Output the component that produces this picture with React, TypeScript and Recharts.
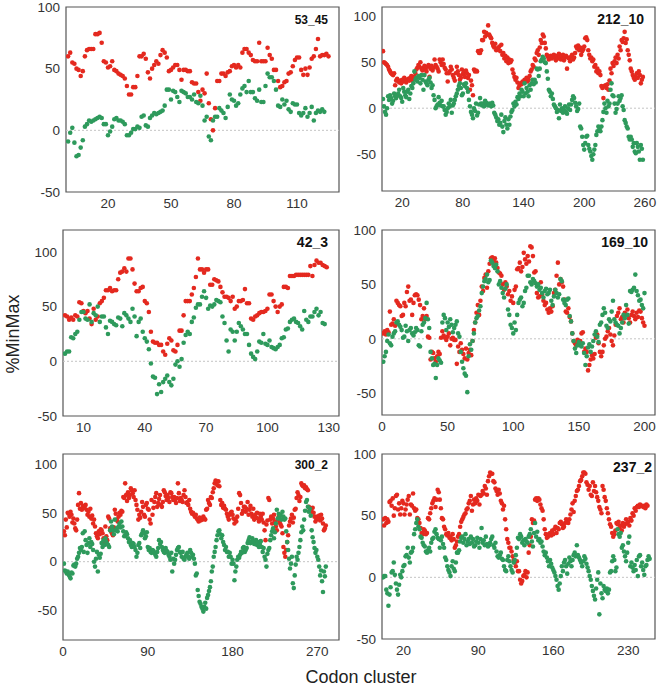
import React from "react";
import {
  ScatterChart,
  Scatter,
  XAxis,
  YAxis,
  ReferenceLine,
  ReferenceArea
} from "recharts";

const RED = "#e4291f";
const GREEN = "#2e9a5c";
const FONT = '"Liberation Sans", Arial, sans-serif';

const yTicks = [-50, 0, 50, 100];

// panel 53_45
const p1Ticks = [20, 50, 80, 110];
const p1Red = [
  60, 63, 55, 54, 50, 49, 44, 48, 60, 65, 66, 66, 66, 78, 78, 79, 71, 56, 55, 51,
  52, 56, 49, 48, 46, 45, 44, 42, 36, 29, 29, 35, 35, 44, 60, 60, 62, 58, 47, 42,
  50, 53, 56, 54, 61, 65, 63, 59, 48, 49, 51, 53, 53, 49, 41, 49, 49, 48, 48, 39,
  38, 38, 31, 24, 33, 30, 46, 22, 9, 0, 18, 40, 40, 46, 46, 44, 47, 48,
  52, 53, 51, 53, 51, 63, 66, 66, 63, 61, 57, 56, 56, 71, 56, 56, 56, 67, 61, 58,
  49, 49, 40, 35, 36, 39, 40, 46, 47, 52, 57, 59, 59, 49, 45, 50, 45, 51, 58, 60,
  66, 74, 60, 61, 61, 62, 60
];
const p1Green = [
  -9, -2, 2, -10, -21, -20, -14, -8, 3, 5, 8, 7, 8, 9, 10, 11, 10, 5, 5, -4,
  -1, 3, 9, 10, 8, 8, 7, 5, -4, -4, -2, 1, 1, 3, 2, 11, 12, 4, 3, 10,
  12, 14, 13, 14, 15, 16, 20, 33, 33, 25, 32, 31, 27, 23, 32, 31, 30, 27, 27, 25,
  29, 23, 22, 28, 20, 8, 11, -5, -8, 8, 11, 11, 18, 16, 14, 10, 19, 29, 25, 24,
  20, 22, 29, 34, 36, 31, 40, 31, 31, 26, 24, 33, 23, 23, 36, 46, 43, 43, 40, 33,
  20, 19, 25, 21, 24, 17, 15, 22, 21, 21, 14, 12, 14, 18, 11, 14, 19, 8, 14, 16,
  15, 17, 15
];

// panel 212_10
const p2Ticks = [20, 80, 140, 200, 260];
const p2Red = [
  62, 50, 49, 48, 47, 45, 42, 40, 38, 37, 36, 38,
  25, 30, 32, 14, 28, 30, 27, 31, 29, 33, 30, 28, 31, 32, 30, 33, 35, 30, 33, 34,
  38, 42, 44, 47, 45, 50, 43, 41,
  44, 46, 42, 40, 45, 47, 34, 43, 46, 41, 44, 53, 47, 45, 43,
  40, 53, 50, 47, 53, 48, 44, 42, 38, 29,
  38, 40, 45, 42, 36, 33, 30, 38, 45, 40, 36, 31, 33, 42, 37,
  39, 34, 41, 38, 33, 36, 20, 30, 25, 14, 42, 40,
  41, 40, 62, 60,
  60, 63, 74, 74, 83, 78, 82, 80, 90, 80, 78, 76,
  71, 68, 66, 70, 63, 65, 64, 67, 62, 69,
  58, 60, 54, 57, 51, 55, 49, 53, 50, 52,
  42, 38, 34, 31, 33, 28, 22, 25,
  27, 26, 29, 28, 31, 30, 33, 29, 31, 35,
  40, 42, 47, 45, 54, 52, 60, 63, 58,
  66, 74, 71, 80, 78, 71, 65,
  58, 56, 53, 55, 57, 54, 56, 58,
  55, 52, 57, 54, 59, 55, 53, 56, 58, 52, 55, 57, 43, 55, 54, 51, 56, 58, 53, 55,
  60, 67, 65, 68, 63, 66, 58, 62, 64, 67,
  76, 77, 74, 63, 58,
  54, 55, 51, 53, 45, 47, 40, 43, 38, 40,
  36, 24, 22, 11, 24, 25, 22, 26, 20,
  30, 43, 38, 49, 46, 51, 55, 49,
  58, 54, 67, 63, 74, 72, 76, 83,
  71, 75, 63, 58, 52,
  43, 40, 36, 33, 31, 34, 38, 33, 40, 36, 27, 31, 34
];
const p2Green = [
  10, 2, -4, -7, 0,
  13, 9, 14, 11, 5, 8, 16, 13, 11, 14,
  16, 20, 13, 11, 7, 22, 18, 14, 12, 18, 20, 10, 16, 24, 22,
  27, 40, 31, 33, 29, 35, 33, 27, 36, 31,
  20, 36, 29, 27, 25, 31, 33, 28, 22, 25,
  14, 9, 0, 2, 4, 12, 6, 3, 8, 2,
  2, -2, -7, -4, 0, 5, 2, 9, -5, 3, 5, 9,
  13, 16, 20, 24, 27, 22, 14, 16, 26, 24, 27, 22, 18,
  9, 2, -4, -7, -11, 0, -3, 5, -8, -5,
  4, 11, 5, 3, 5, 2, 8, 6, 4, 3, 5, 4, 2, 6, 3,
  -5, -7, -10, -14, -12, -18, -16, -7, -20, -26, -14, -10, -18, -22, -12,
  -18, -9, -4, -2, 5, 2, 7, 4, 12, 10,
  16, 13, 20, 18, 13, 27, 16, 22, 18, 13, 25, 20, 27, 31, 26,
  31, 28, 43, 42, 35, 43, 51, 53, 56, 54, 50, 49,
  40, 32, 20, 18, 13, 16, 10, 4,
  2, 0, -4, -2, -11, 4, -3, 0, -5, -2, 2, -4, -6, 0, 4,
  -2, 4, 9, 13, 11, 6, 2, -3, -1, 5,
  -20, -22, -31, -40, -45, -38, -31, -30, -40, -44,
  -47, -52, -56, -50, -45, -40, -29, -25, -20, -23,
  -25, -20, -13, -4, 5, 0, -5, 8, 2, 5,
  20, 27, 14, 13, 5, -5, -1, 5, 13, 8,
  11, 14, 2, -2, -13, -16, -20, -22, -31, -34,
  -31, -34, -42, -38, -47, -49, -38, -42, -47, -56, -40, -44, -56
];

// panel 42_3
const p3Ticks = [10, 40, 70, 100, 130];
const p3Red = [
  42, 41, 38, 40, 38, 42, 41, 54, 53, 46, 44, 46, 39, 34, 48, 38, 41, 53, 55, 58,
  65, 65, 67, 64, 65, 65, 75, 81, 82, 85, 82, 94, 94, 84, 71, 64, 64, 67, 68, 55,
  53, 45, 27, 18, 17, 17, 15, 15, 9, 6, 16, 21, 19, 10, 9, 15, 28, 28, 42, 55,
  55, 55, 61, 67, 77, 94, 84, 84, 81, 84, 84, 70, 70, 75, 74, 73, 68, 63, 59, 59,
  58, 55, 59, 48, 50, 55, 55, 56, 66, 53, 53, 39, 38, 41, 42, 44, 45, 45, 46, 48,
  61, 61, 55, 50, 45, 50, 52, 68, 68, 67, 78, 78, 78, 79, 79, 79, 79, 79, 79, 79,
  87, 78, 88, 92, 90, 90, 88, 87, 86
];
const p3Green = [
  7, 9, 9, 22, 21, 25, 27, 38, 45, 45, 39, 38, 52, 36, 44, 42, 50, 36, 41, 41,
  31, 25, 37, 36, 34, 33, 40, 39, 32, 44, 42, 39, 36, 48, 41, 23, 36, 39, 27, 21,
  18, 11, -2, -14, -15, -30, -21, -28, -19, -16, -13, -19, -22, -16, -3, 0, -5, 2, 17, 24,
  27, 25, 36, 40, 49, 52, 52, 59, 64, 58, 48, 51, 50, 52, 56, 55, 54, 41, 35, 19,
  9, 29, 27, 19, 27, 35, 32, 29, 25, 25, 15, 7, 4, 2, 9, 18, 17, 25, 16, 15,
  19, 13, 12, 11, 13, 15, 21, 22, 29, 30, 36, 38, 39, 36, 35, 32, 29, 46, 38, 36,
  41, 41, 45, 48, 42, 45, 35, 34
];

// panel 169_10
const p4Ticks = [0, 50, 100, 150, 200];
const p4Red = [
  5, 7, 4, 8, 6, 25, 13, 14, 18, 12,
  35, 33, 31, 30, 21, 22, 33, 30, 43, 48, 35, 36, 22, 33, 40,
  41, 40, 36, 31, 18, 21, 28, 18, 21, 2, 1, -19, -12,
  -13, -18, -21, -16, -12, -14, 1, 7, 3, 1, -1, 2, 5, -6, 0, 1, -1,
  -1, -23, -7, -12, -4, -10, -14, -18, -9, -19, -13, -10, -15,
  -2, 8, 15, 24, 31, 22, 35, 48, 44, 56, 59, 47,
  62, 69, 74, 75, 72, 74, 70, 65, 61, 60, 58, 50, 45, 52, 48, 41, 44, 35, 39, 33,
  45, 48, 64, 65, 70, 62, 66, 79, 73, 69, 76, 71, 85, 84, 76,
  61, 62, 42, 38, 39, 52, 41, 35, 31, 33, 27, 24, 28, 25, 30,
  42, 45, 58, 70, 50, 55, 52, 48, 36, 25, 24, 28, 20,
  16, 5, -2, -4, -6, -1, -4, -2, 5, 6, -12, -9,
  -12, -29, -24, -19, -15, -18, -14, 1, 4, -4, -12, -16, -12, -6, 0,
  2, 7, 10, 4, -2, -6, 3, 13, 21, 24, 28, 18, 20, 15, 24,
  22, 27, 19, 15, 22, 25, 21, 18, 24, 20, 26, 25, 19, 15, 12
];
const p4Green = [
  -21, -16, -12, -2, 4, -4, -6, 2, 5, 7,
  15, 16, 13, 11, 8, 1, 2, 12, 7, -2, 8, 10, 5, 3, 6,
  10, 8, -6, -7, 7, 13, 15, 19, 33, 18, 10,
  -12, -18, -24, -23, -36, -24, -18, -20, -22,
  15, 22, 19, 8, 15, 11, 18, 13, 6, 10, 13, 16, 5, 2, -12,
  -21, -27, -32, -34, -49, -16, -5, -10, -2, 5, 15, 19, 21, 26, 30,
  42, 48, 53, 55, 59, 52, 54, 72, 70, 67, 65, 68, 62,
  50, 53, 47, 42, 38, 46, 50, 27, 22, 13, 10, 5, 15, 8,
  22, 33, 36, 38, 30, 33, 44, 47, 58, 58, 52, 50, 55,
  53, 51, 48, 50, 45, 47, 42, 38, 44, 46, 41, 42, 45, 35, 31, 39, 45, 42, 38, 41,
  55, 53, 36, 33, 31, 36, 37, 21, 16, 5, -2, -9, -13, -6, -3,
  -6, -7, -4, -13, -24, -16, -8, -5, -12, -7, -2, 4, 7, 2, -3,
  13, 15, 22, 28, 24, 12, 10, 18, 16, 25, 35, 18, 15, 13, 12,
  5, 10, 15, 22, 19, 31, 22, 14, 44, 43, 45, 47, 59, 44, 40,
  35, 36, 31, 28, 42
];

// panel 300_2
const p5Ticks = [0, 90, 180, 270];
const p5Red = [
  31, 27, 43, 35, 50, 49, 46, 51, 48, 40, 44, 39, 34, 32, 43,
  58, 70, 54, 60, 53, 57, 55, 56, 58, 53, 48, 51, 46, 54, 44, 47,
  39, 43, 36, 29, 26, 24, 31, 28, 33, 32, 29, 24, 20, 36, 26, 22,
  46, 44, 34, 31, 29, 27, 35, 53, 49, 43, 41, 46, 50, 48,
  52, 51, 66, 65, 80, 68, 62, 71, 65, 68, 75, 73, 70, 66,
  73, 63, 58, 53, 43, 48, 45, 51, 61, 56, 48, 46, 58, 60,
  54, 53, 43, 39, 63, 48, 55, 61, 66, 70, 56, 60, 64, 68,
  58, 56, 61, 73, 71, 67, 63, 68, 65, 61, 71, 70, 66, 63,
  66, 63, 60, 65, 80, 70, 62, 65, 63, 61, 68, 73, 66, 60,
  61, 58, 63, 54, 51, 49, 50,
  48, 46, 48, 44, 43, 41, 45, 42, 44, 43, 46, 44, 43, 53,
  54, 63, 60, 58, 66, 65, 71, 75, 80, 83, 82, 78, 82, 77, 63,
  58, 60, 55, 57, 54, 53, 49, 46, 43, 48, 50, 51, 48, 44,
  39, 43, 41, 46, 54, 70, 68, 60, 49, 52, 56, 56, 51, 54,
  61, 48, 53, 57, 49, 46, 54, 43, 48, 45, 50, 44, 41, 49,
  46, 43, 49, 40, 32, 22, 38, 42, 65, 63, 43, 46, 39, 44,
  48, 41, 36, 32, 43, 46, 40, 38, 36, 29, 15, 9, 5, 12,
  20, 27, 37, 41, 44, 48, 40, 45, 53, 54, 65, 71, 68, 62,
  66, 80, 78, 77, 78, 75, 76, 74, 73, 56, 53, 54, 51, 55,
  50, 46, 41, 43, 46, 44, 47, 42, 48, 44, 39, 32, 34, 37
];
const p5Green = [
  -2, -9, -10, -12, -10, -13, -15, -17, -11, -12, -4, -3, -5, -2, 3,
  5, 9, 14, 12, 15, 29, 10, 31, 22, 17, 9, 19, 24, 15, 20, 18,
  12, 0, -5, 3, 10, -10, 7, 4, 8, 19, 15, 22, 17, 24, 20, 18,
  17, 15, 32, 41, 36, 32, 28, 43, 32, 34, 31, 36, 39, 35,
  41, 36, 31, 26, 27, 30, 28, 24, 20, 22, 17, 15, 19, 18,
  15, 12, 5, 9, 17, 19, 14, 27, 29, 32, 29, 24, 26, 30,
  15, 12, 14, 10, 9, 12, 11, 9, 7, 5, 10, 14, 22, 18,
  20, 15, 12, 10, 9, 14, 11, 10, 7, 5, 2, 9, -10, 3,
  -2, 2, 7, 12, 14, 15, 10,
  9, 5, 10, 3, 2, 5, 7, 9, 5, 3, 12, 9, 5, 7,
  3, -2, -14, -12, -29, -35, -41, -43, -46, -48, -51, -46, -42, -48,
  -37, -34, -30, -26, -20, -10, -5, 5, 10, 15, 22, 27, 31, 32, 28,
  24, 27, 20, 17, 12, 15, 10, 10, 5, 9, 5, -2, 2, -2,
  -19, -10, -5, 2, 5, 4, 7, 10, 9, 14, 15, 10, 12, 14,
  19, 22, 25, 19, 20, 24, 20, 18, 19, 22, 17, 20, 15, 18,
  21, 15, 10, 14, 5, 2, -5, 8, 12, 14, 22, 27, 31, 34,
  24, 30, 39, 53, 44, 49, 46, 48, 43, 51, 46, 43, 44, 31,
  20, 12, 3, -7, -2, 5, -22, -27, -14, -3, 5, 2, 9, 15,
  22, 30, 36, 32, 43, 52, 61, 63, 56, 51, 54, 47, 32, 25,
  20, 14, 9, 12, 5, 2, -5, -14, -9, -20, -31, -10, -15, -5
];

// panel 237_2
const p6Ticks = [20, 90, 160, 230];
const p6Red = [
  47, 42, 48, 44, 47, 45, 61, 62, 58, 64, 50, 56, 66, 67,
  55, 60, 51, 56, 62, 60, 51, 55, 59, 63, 66, 51, 59, 58, 68, 56, 54, 55,
  48, 47, 44, 40, 36, 35, 39, 38, 35, 36, 48, 47, 52, 56, 60, 62, 64, 57,
  63, 71, 69, 63, 56, 48, 47, 41, 39, 35, 34, 36, 32, 33, 30, 35,
  31, 24, 26, 29, 33, 35, 41, 45, 47, 49, 51, 52, 55, 56, 60, 62,
  66, 54, 59, 63, 60, 64, 62, 67, 59, 66, 67, 70, 68, 74, 72, 67, 78, 82,
  85, 84, 84, 78, 77, 72, 70, 67, 71, 68, 62, 60, 55, 58,
  47, 39, 31, 28, 24, 24, 21, 17, 14, 12, 9, 13, 5,
  5, -2, -5, -3, 1, 2, 5, 0, 4, 20, 26, 33, 47, 44, 46,
  63, 64, 62, 64, 63, 59, 56, 54, 47, 39, 35, 32, 33, 35,
  36, 34, 38, 35, 39, 41, 36, 40, 39, 44, 45, 43, 40, 41, 44, 47, 45, 44, 47, 51,
  55, 60, 53, 62, 66, 70, 71, 74, 78, 79, 82, 85, 85, 84, 77, 75,
  71, 74, 67, 66, 77, 70, 74, 69, 65, 62, 57, 55, 52, 74, 71, 65,
  62, 56, 52, 47, 43, 41, 36, 33, 35, 38, 44, 43, 45, 40, 42, 38, 44,
  41, 43, 47, 44, 45, 42, 48, 46, 52, 50,
  56, 54, 57, 58, 57, 59, 58, 58, 57, 58, 56, 59, 58
];
const p6Green = [
  0, 1, 1, -10, -13, -23, -14, -8, 4, 5, 12, 2, -5, -10, -14, -6, 2, 0, 5,
  9, 10, 17, 18, 24, 16, 12, 20, 21, 24, 35, 39, 44, 47,
  41, 39, 33, 32, 28, 26, 25, 21, 20, 22, 24, 21,
  28, 31, 32, 37, 39, 35, 32, 31, 24, 30, 33, 27,
  24, 16, 14, 9, 6, 4, 1, 9, 13, 7, 5, 12, 20,
  20, 22, 29, 32, 33, 28, 31, 35, 26, 29, 31, 27,
  33, 28, 31, 25, 26, 29, 32, 28, 24, 31, 40, 28, 30, 26, 33, 27,
  25, 26, 28, 31, 33, 26, 24, 28, 21, 17, 16, 18, 20, 15, 14,
  9, 6, 5, 14, 17, 13, 9, 6, 4,
  12, 14, 18, 24, 32, 31, 35, 33, 28, 30, 26, 31, 29,
  28, 33, 35, 39, 29, 25, 36, 44, 33, 37, 30, 31,
  28, 29, 25, 21, 18, 20, 16, 13, 9, 14, 11, 8, 6,
  4, 1, -2, -7, -10, -5, 1, 9, 5, 12, 14, 9, 3, 11, 16,
  13, 9, 14, 18, 20, 17, 26, 18, 16, 14, 12, 9, 13, 17, 15, 11,
  8, 5, 1, -2, -7, -11, -15, -18, -9, -2, 4, -30, -5, -13, -17,
  -7, -10, -11, -9, -13, -10, 4, 5, 13, 17, 14, 5, 8,
  39, 35, 33, 36, 24, 26, 21, 17, 13, 20, 28, 33,
  9, 12, 8, 5, 10, 6, 14, 1, 17, 18, 9, 12, 6, 2, 9, 10, 14, 17, 15
];

const toPoints = (values: number[]) => values.map((y, i) => ({ x: i + 1, y }));

const dot = (color: string) => (props: any) =>
  <circle cx={props.cx} cy={props.cy} r={2.3} fill={color} />;

const tickStyle = { fontSize: 13.5, fill: "#333", fontFamily: FONT };

type PanelProps = {
  left: number;
  top: number;
  width: number;
  height: number;
  xMax: number;
  yMin: number;
  yMax: number;
  xTicks: number[];
  red: number[];
  green: number[];
};

const Y_AXIS_W = 44;
const X_AXIS_H = 24;
const TOP = 12;
const RIGHT = 4;

function Panel({ left, top, width, height, xMax, yMin, yMax, xTicks, red, green }: PanelProps) {
  return (
    <div style={{ position: "absolute", left: left - Y_AXIS_W, top: top - TOP }}>
      <ScatterChart
        width={width + Y_AXIS_W + RIGHT}
        height={height + TOP + X_AXIS_H}
        margin={{ top: TOP, right: RIGHT, bottom: 0, left: 0 }}
      >
        <XAxis
          type="number"
          dataKey="x"
          domain={[0, xMax]}
          ticks={xTicks}
          interval={0}
          allowDataOverflow
          axisLine={false}
          tickLine={false}
          tickSize={4}
          tickMargin={2}
          height={X_AXIS_H}
          tick={tickStyle}
        />
        <YAxis
          type="number"
          dataKey="y"
          domain={[yMin, yMax]}
          ticks={yTicks}
          interval={0}
          allowDataOverflow
          axisLine={false}
          tickLine={false}
          tickSize={4}
          tickMargin={2}
          width={Y_AXIS_W}
          tick={tickStyle}
        />
        <ReferenceLine y={0} stroke="#c4c4c4" strokeDasharray="2 2" />
        <Scatter data={toPoints(red)} shape={dot(RED)} isAnimationActive={false} />
        <Scatter data={toPoints(green)} shape={dot(GREEN)} isAnimationActive={false} />
        <ReferenceArea
          x1={0}
          x2={xMax}
          y1={yMin}
          y2={yMax}
          fill="none"
          stroke="#555"
          strokeWidth={1.2}
          ifOverflow="visible"
        />
      </ScatterChart>
    </div>
  );
}

function Title({ text, right, cy, size }: { text: string; right: number; cy: number; size: number }) {
  return (
    <div
      style={{
        position: "absolute",
        right: 660 - right,
        top: cy - size / 2,
        fontSize: size,
        lineHeight: 1,
        fontWeight: 700,
        color: "#111",
        fontFamily: FONT
      }}
    >
      {text}
    </div>
  );
}

export default function App() {
  return (
    <div
      style={{
        position: "absolute",
        left: 0,
        top: 0,
        width: 660,
        height: 689,
        background: "#fff",
        fontFamily: FONT,
        overflow: "hidden"
      }}
    >
      <Panel left={66} top={7} width={273} height={185} xMax={130} yMin={-50} yMax={100} xTicks={p1Ticks} red={p1Red} green={p1Green} />
      <Panel left={382} top={7} width={273} height={184} xMax={270} yMin={-90} yMax={110} xTicks={p2Ticks} red={p2Red} green={p2Green} />
      <Panel left={63} top={230} width={276} height={186} xMax={135} yMin={-50} yMax={120} xTicks={p3Ticks} red={p3Red} green={p3Green} />
      <Panel left={382} top={230} width={273} height={185} xMax={208} yMin={-70} yMax={100} xTicks={p4Ticks} red={p4Red} green={p4Green} />
      <Panel left={63} top={454} width={276} height={186} xMax={293} yMin={-80} yMax={110} xTicks={p5Ticks} red={p5Red} green={p5Green} />
      <Panel left={382} top={454} width={273} height={185} xMax={255} yMin={-50} yMax={100} xTicks={p6Ticks} red={p6Red} green={p6Green} />

      <Title text="53_45" right={328} cy={20} size={12} />
      <Title text="212_10" right={644} cy={19} size={14} />
      <Title text="42_3" right={328} cy={242} size={14} />
      <Title text="169_10" right={648} cy={242} size={14} />
      <Title text="300_2" right={328} cy={465} size={12} />
      <Title text="237_2" right={652} cy={467} size={14} />

      <div
        style={{
          position: "absolute",
          left: 13,
          top: 334,
          transform: "translate(-50%, -50%) rotate(-90deg)",
          fontSize: 18,
          color: "#222",
          whiteSpace: "nowrap",
          lineHeight: 1
        }}
      >
        %MinMax
      </div>
      <div
        style={{
          position: "absolute",
          left: 361,
          top: 677,
          transform: "translate(-50%, -50%)",
          fontSize: 18,
          color: "#222",
          whiteSpace: "nowrap",
          lineHeight: 1
        }}
      >
        Codon cluster
      </div>
    </div>
  );
}
